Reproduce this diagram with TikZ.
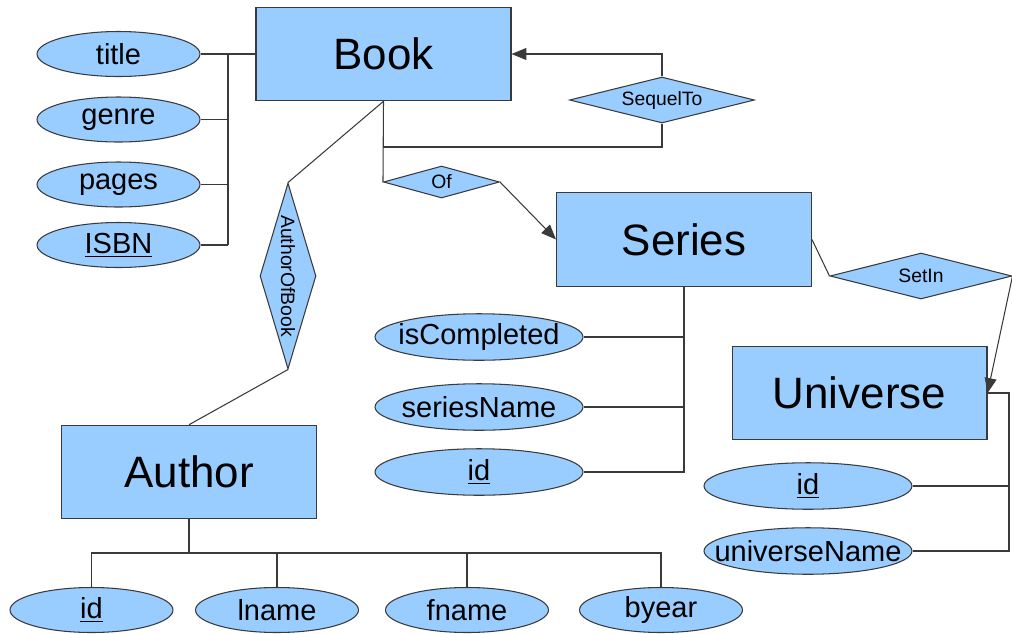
\documentclass[tikz,border=0pt]{standalone}
\usepackage{fontspec}
\setmainfont{Liberation Sans}
\usetikzlibrary{shapes.geometric,arrows.meta}

\definecolor{erblue}{HTML}{99CCFF}
\definecolor{erline}{HTML}{3A3A3A}

\tikzset{
  entity/.style={draw=erline, fill=erblue, line width=.6pt,
    minimum width=5.1cm, minimum height=1.87cm,
    font=\fontsize{25}{30}\selectfont},
  attr/.style={ellipse, draw=erline, fill=erblue, line width=.6pt,
    inner xsep=-12pt, inner ysep=0pt,
    minimum width=3.26cm, minimum height=.9cm,
    font=\fontsize{16.5}{20}\selectfont},
  wideattr/.style={attr, minimum width=4.16cm, minimum height=.93cm},
  rel/.style={diamond, draw=erline, fill=erblue, line width=.6pt,
    inner sep=0pt, aspect=4, font=\fontsize{11}{13}\selectfont},
  conn/.style={draw=erline, line width=.6pt},
  toent/.style={conn, -{Triangle[length=8.5pt,width=6.8pt]}},
}

\begin{document}
\begin{tikzpicture}[x=.02cm, y=-.02cm]
  \useasboundingbox (0,0) rectangle (1012,633);

  % === entities ===
  \node[entity] (Book)     at (383.5,54)  {Book};
  \node[entity] (Series)   at (684,239.5) {Series};
  \node[entity] (Universe) at (859.5,393) {Universe};
  \node[entity] (Author)   at (189,472)   {Author};

  % === relationships ===
  \node[rel, minimum width=3.7cm, minimum height=.92cm]  (SequelTo) at (662,100)   {SequelTo};
  \node[rel, aspect=3.6, minimum width=2.32cm, minimum height=.64cm] (Of) at (441.5,182) {Of};
  \node[rel, minimum width=3.64cm, minimum height=.92cm] (SetIn)    at (921,276)   {SetIn};
  \node[rel, rotate=-90, aspect=3.3, minimum width=3.72cm, minimum height=1.12cm]
    (AuthorOfBook) at (288,276) {AuthorOfBook};

  % === attributes of Book ===
  \node[attr] (title) at (118.5,54)  {title};
  \node[attr] (genre) at (118.5,119.5) {genre};
  \node[attr] (pages) at (118.5,184.5) {pages};
  \node[attr] (isbn)  at (118.5,245) {\underline{ISBN}};
  \coordinate (bookbus) at (228,0);

  \draw[conn] (title.east) -- (Book.west);
  \draw[conn] (title.east -| bookbus) -- (isbn.east -| bookbus);
  \foreach \a in {genre,pages,isbn}{
    \draw[conn] (\a.east) -- (\a.east -| bookbus);
  }

  % === attributes of Author ===
  \node[attr] (authid) at (91.5,610) {\underline{id}};
  \node[attr] (lname)  at (277,610)  {lname};
  \node[attr] (fname)  at (467,610)  {fname};
  \node[attr] (byear)  at (661,610)  {byear};
  \coordinate (authbus) at (0,553);

  \draw[conn] (authid.north) |- (byear.north |- authbus) -- (byear.north);
  \foreach \a in {Author.south,lname.north,fname.north}{
    \draw[conn] (\a) -- (\a |- authbus);
  }

  % === attributes of Series ===
  \node[wideattr] (iscompleted) at (479,337) {isCompleted};
  \node[wideattr] (seriesname)  at (479,407) {seriesName};
  \node[wideattr] (seriesid)    at (479,472) {\underline{id}};

  \draw[conn] (Series.south) |- (seriesid.east);
  \draw[conn] (iscompleted.east) -- (iscompleted.east -| Series.south);
  \draw[conn] (seriesname.east) -- (seriesname.east -| Series.south);

  % === attributes of Universe ===
  \node[wideattr] (univid)   at (808,486) {\underline{id}};
  \node[wideattr] (univname) at (808,551) {universeName};
  \coordinate (univbus) at (1009,0);

  \draw[conn] (Universe.east) -| (univname.east -| univbus) -- (univname.east);
  \draw[conn] (univid.east) -- (univid.east -| univbus);

  % === relationship lines ===
  \coordinate (seqloop) at (662,147);
  \draw[conn] (Book.south) |- (seqloop) -- (SequelTo.south);
  \draw[toent] (SequelTo.north) |- (Book.east);

  \draw[conn] (Book.south) -- (Of.west);
  \draw[toent] (Of.east) -- (Series.west);

  \draw[conn] (Book.south) -- (AuthorOfBook.west);
  \draw[conn] (AuthorOfBook.east) -- (Author.north);

  \draw[conn] (Series.east) -- (SetIn.west);
  \draw[toent] (SetIn.east) -- (Universe.east);
\end{tikzpicture}
\end{document}
